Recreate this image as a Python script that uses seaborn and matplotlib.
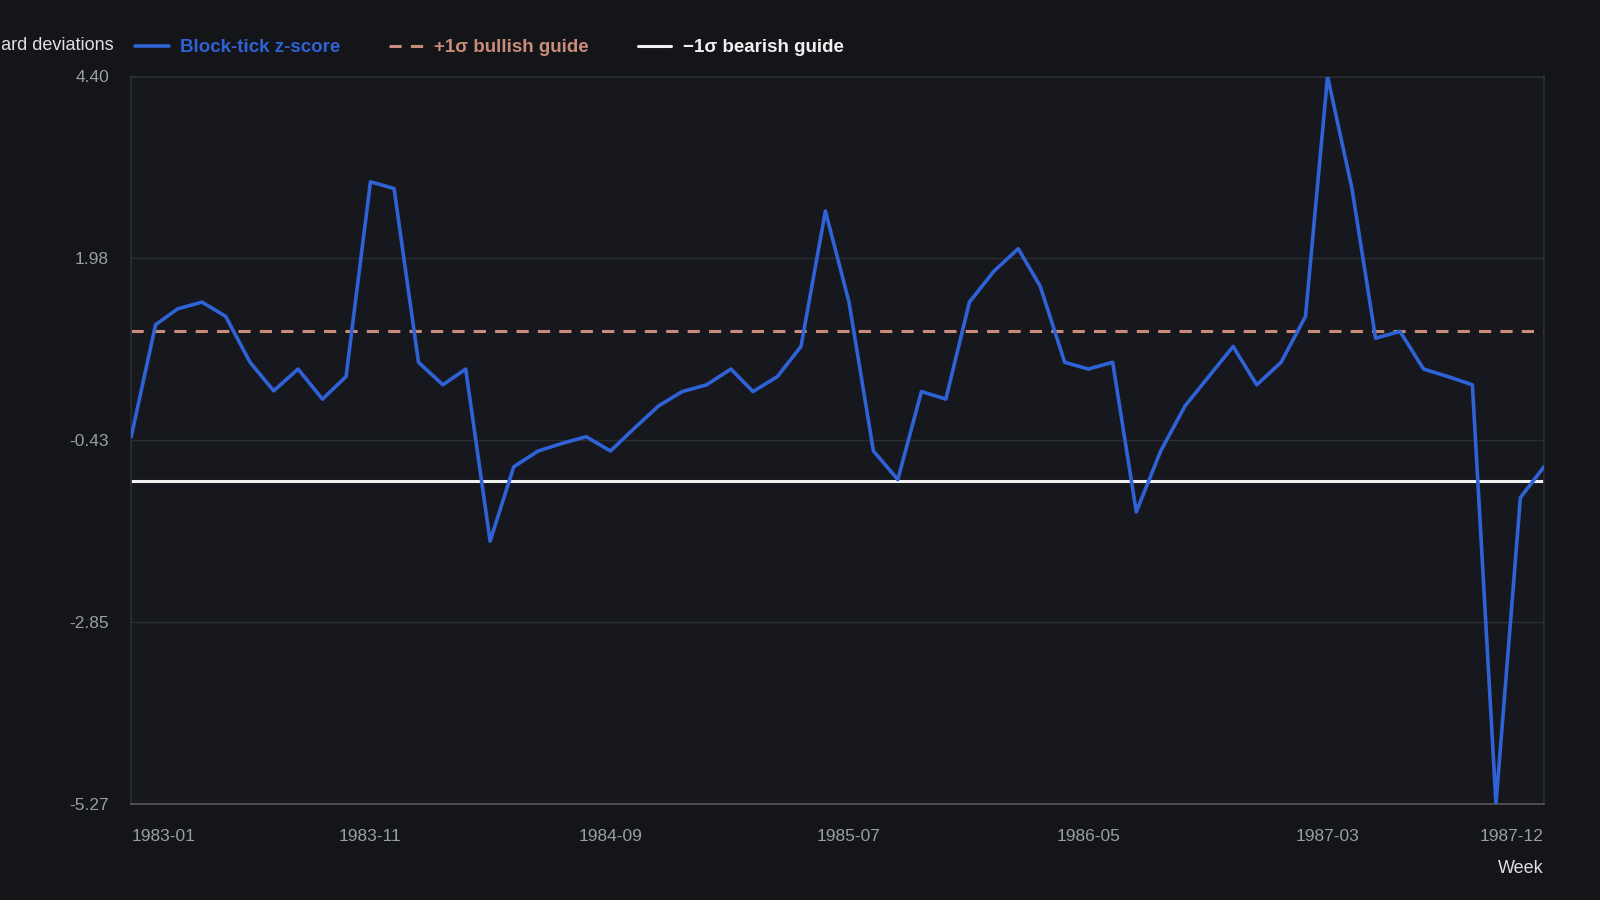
import numpy as np
import pandas as pd
import matplotlib
matplotlib.use('Agg')
import matplotlib.pyplot as plt
import matplotlib.dates as mdates
import seaborn as sns

# monthly z-scores
months = pd.date_range('1983-01-01', '1987-12-01', freq='MS')
zscore = [-0.39, 1.10, 1.31, 1.40, 1.21, 0.60, 0.22, 0.51, 0.11, 0.41,
          3.00, 2.91, 0.60, 0.30, 0.51, -1.78, -0.79, -0.58, -0.48, -0.39,
          -0.58, -0.28, 0.02, 0.21, 0.30, 0.51, 0.21, 0.41, 0.81, 2.61,
          1.40, -0.58, -0.96, 0.21, 0.11, 1.40, 1.81, 2.11, 1.61, 0.60,
          0.51, 0.60, -1.39, -0.58, 0.02, 0.41, 0.81, 0.30, 0.60, 1.21,
          4.40, 2.91, 0.92, 1.01, 0.51, 0.41, 0.30, -5.27, -1.20, -0.79]
bullish = 1.01
bearish = -0.98
yticks = [4.40, 1.98, -0.43, -2.85, -5.27]
xtick_dates = pd.to_datetime(['1983-01-01', '1983-11-01', '1984-09-01',
                              '1985-07-01', '1986-05-01', '1987-03-01', '1987-12-01'])

df = pd.DataFrame({'Week': months, 'z': zscore})

bg = '#131519'
sns.set_theme(style='dark', rc={'figure.facecolor': bg, 'axes.facecolor': '#16181d'})
plt.rcParams['font.family'] = ['Liberation Sans', 'DejaVu Sans']

fig = plt.figure(figsize=(16, 9), dpi=100)
ax = fig.add_axes([0.082, 0.107, 0.883, 0.808])

ax.axhline(bullish, color='#c98b7a', lw=2.2, ls=(0, (4, 3)), label='+1σ bullish guide', zorder=2)
ax.axhline(bearish, color='#f0f0f0', lw=2.2, label='−1σ bearish guide', zorder=2)
sns.lineplot(data=df, x='Week', y='z', ax=ax, color='#2f62d6', lw=2.6,
             label='Block-tick z-score', zorder=3)

ax.set_ylim(-5.27, 4.40)
ax.set_xlim(months[0], months[-1])
ax.set_yticks(yticks)
ax.set_yticklabels([f'{v:.2f}' for v in yticks])
ax.set_xticks(xtick_dates)
ax.xaxis.set_major_formatter(mdates.DateFormatter('%Y-%m'))
ax.grid(axis='y', color='#2a2d33', lw=1)
ax.grid(axis='x', visible=False)
ax.tick_params(axis='both', colors='#9a9da3', labelsize=12.5, length=0)
ax.tick_params(axis='y', pad=16)
ax.tick_params(axis='x', length=6, color='#555', pad=12)
labels = ax.get_xticklabels()
labels[0].set_ha('left')
labels[-1].set_ha('right')
for s in ax.spines.values():
    s.set_color('#2a2d33')
ax.spines['bottom'].set_color('#555')
ax.set_xlabel('')
ax.set_ylabel('')
ax.legend_.remove()

fig.text(0.965, 0.03, 'Week', color='#e0e0e0', fontsize=13, ha='right')
fig.text(0.071, 0.945, 'Standard deviations', color='#e0e0e0', fontsize=13, ha='right')

h, l = ax.get_legend_handles_labels()
order = [2, 0, 1]
leg = fig.legend([h[i] for i in order], [l[i] for i in order], loc='upper left',
                 bbox_to_anchor=(0.074, 0.975), ncol=3, frameon=False,
                 handlelength=1.8, handletextpad=0.6, columnspacing=2.6,
                 prop={'weight': 'bold', 'size': 13.5})
for t, c in zip(leg.get_texts(), ['#2f62d6', '#c98b7a', '#f0f0f0']):
    t.set_color(c)

fig.savefig('out.png', dpi=100, facecolor=bg)
